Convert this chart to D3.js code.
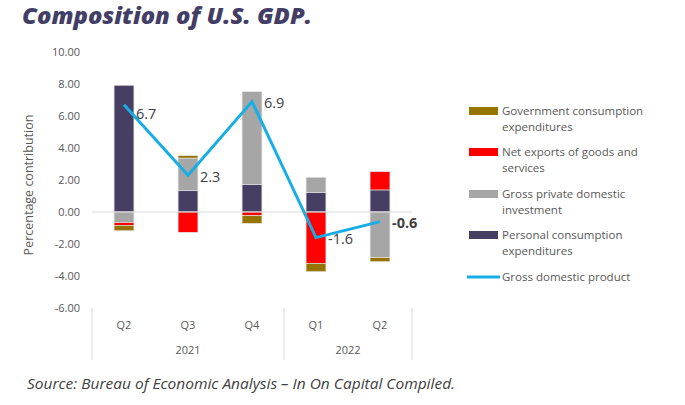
<!DOCTYPE html>
<html><head><meta charset="utf-8">
<script src="https://cdn.jsdelivr.net/npm/d3@7"></script>
<style>body{margin:0;background:#fff;}svg{display:block;}</style>
</head><body>
<svg id="c" width="685" height="405"></svg>
<script>
const quarters = ["Q2","Q3","Q4","Q1","Q2"];
const years = [{label:"2021", n:3},{label:"2022", n:2}];
const pce  = [7.92, 1.33, 1.73, 1.23, 1.38];
const gpdi = [-0.66, 2.04, 5.79, 0.94, -2.85];
const netx = [-0.18, -1.27, -0.23, -3.21, 1.14];
const gov  = [-0.33, 0.15, -0.48, -0.52, -0.25];
const gdp  = [6.7, 2.3, 6.9, -1.6, -0.6];
const gdpLabels = ["6.7","2.3","6.9","-1.6","-0.6"];
const yTicks = [10,8,6,4,2,0,-2,-4,-6];
const seriesNames = ["Personal consumption expenditures","Gross private domestic investment","Net exports of goods and services","Government consumption expenditures"];
const seriesData = [pce, gpdi, netx, gov];
const colors = ["#463f63","#a6a6a6","#ff0000","#977300"];
const legendItems = [
  {lines:["Government consumption","expenditures"], color:"#977300"},
  {lines:["Net exports of goods and","services"], color:"#ff0000"},
  {lines:["Gross private domestic","investment"], color:"#a6a6a6"},
  {lines:["Personal consumption","expenditures"], color:"#463f63"}
];

const svg = d3.select("#c");
const font = "'Open Sans', 'Noto Sans', sans-serif";
const x0 = 92, x1 = 412;
const y = d3.scaleLinear().domain([-6,10]).range([308,52]);
const idx = d3.range(quarters.length);
const x = d3.scaleBand().domain(idx).range([x0,x1]).paddingInner(0.69).paddingOuter(0.345);
const xc = i => x(i) + x.bandwidth()/2;

// title
svg.append("text").attr("x",22).attr("y",24).text("Composition of U.S. GDP.")
  .attr("font-family",font).attr("font-weight",800).attr("font-style","italic")
  .attr("font-size",23).attr("fill","#433e66").attr("textLength",290).attr("lengthAdjust","spacingAndGlyphs");

// y axis labels
svg.append("g").selectAll("text").data(yTicks).join("text")
  .attr("x",80).attr("y",d=>y(d)+4).attr("text-anchor","end")
  .attr("font-family",font).attr("font-size",11).attr("fill","#595959")
  .text(d=>d3.format(".2f")(d).replace("\u2212","-"));

svg.append("text").attr("transform",`translate(33,185) rotate(-90)`).attr("text-anchor","middle")
  .attr("font-family",font).attr("font-size",12.5).attr("fill","#595959").text("Percentage contribution");

// stacked bars (diverging)
const bars = svg.append("g");
idx.forEach(i=>{
  let pos=0, neg=0;
  seriesData.forEach((s,k)=>{
    const v = s[i];
    let a,b;
    if(v>=0){a=pos; b=pos+v; pos=b;} else {a=neg; b=neg+v; neg=b;}
    bars.append("rect").attr("x",x(i)).attr("width",x.bandwidth())
      .attr("y",y(Math.max(a,b))).attr("height",Math.abs(y(a)-y(b)))
      .attr("fill",colors[k]).attr("stroke","#e6e6e6").attr("stroke-width",0.6);
  });
});

// zero line
svg.append("line").attr("x1",x0).attr("x2",x1).attr("y1",y(0)).attr("y2",y(0))
  .attr("stroke","#d9d9d9").attr("stroke-width",1);

// gdp line
const line = d3.line().x((d,i)=>xc(i)).y(d=>y(d));
svg.append("path").datum(gdp).attr("d",line).attr("fill","none")
  .attr("stroke","#17aee7").attr("stroke-width",3).attr("stroke-linejoin","miter");

const lblDy = [9,2,1,1,1];
svg.append("g").selectAll("text").data(gdp).join("text")
  .attr("x",(d,i)=>xc(i)+12).attr("y",(d,i)=>y(d)+lblDy[i]+5)
  .attr("font-family",font).attr("font-size",14.5).attr("fill","#404040")
  .attr("font-weight",(d,i)=>i===4?700:400)
  .text((d,i)=>gdpLabels[i]);

// x axis categories
const ax = svg.append("g");
ax.selectAll("text.q").data(quarters).join("text").attr("class","q")
  .attr("x",(d,i)=>xc(i)).attr("y",329).attr("text-anchor","middle")
  .attr("font-family",font).attr("font-size",11).attr("fill","#595959").text(d=>d);
let start=0;
const sepXs=[x0];
years.forEach(g=>{
  const a = x0 + start*x.step(), b = x0 + (start+g.n)*x.step();
  ax.append("text").attr("x",(a+b)/2).attr("y",354).attr("text-anchor","middle")
    .attr("font-family",font).attr("font-size",11).attr("fill","#595959").text(g.label);
  start+=g.n; sepXs.push(b);
});
ax.selectAll("line").data(sepXs).join("line")
  .attr("x1",d=>d).attr("x2",d=>d).attr("y1",308).attr("y2",360)
  .attr("stroke","#d9d9d9").attr("stroke-width",1);

// legend
const lg = svg.append("g");
const lgY = [111,152,194,235];
legendItems.forEach((it,k)=>{
  lg.append("rect").attr("x",469).attr("y",lgY[k]-4).attr("width",29).attr("height",8).attr("fill",it.color);
  it.lines.forEach((t,j)=>{
    lg.append("text").attr("x",502).attr("y",lgY[k]+4+j*16)
      .attr("font-family",font).attr("font-size",11.5).attr("fill","#595959").text(t);
  });
});
lg.append("line").attr("x1",467).attr("x2",500).attr("y1",277).attr("y2",277)
  .attr("stroke","#17aee7").attr("stroke-width",3);
lg.append("text").attr("x",502).attr("y",281).attr("font-family",font).attr("font-size",11.5)
  .attr("fill","#595959").text("Gross domestic product");

// source
svg.append("text").attr("x",27).attr("y",389).attr("font-family",font).attr("font-style","italic")
  .attr("font-size",14.5).attr("fill","#404040").attr("textLength",428).attr("lengthAdjust","spacingAndGlyphs")
  .text("Source: Bureau of Economic Analysis – In On Capital Compiled.");
</script>
</body></html>
